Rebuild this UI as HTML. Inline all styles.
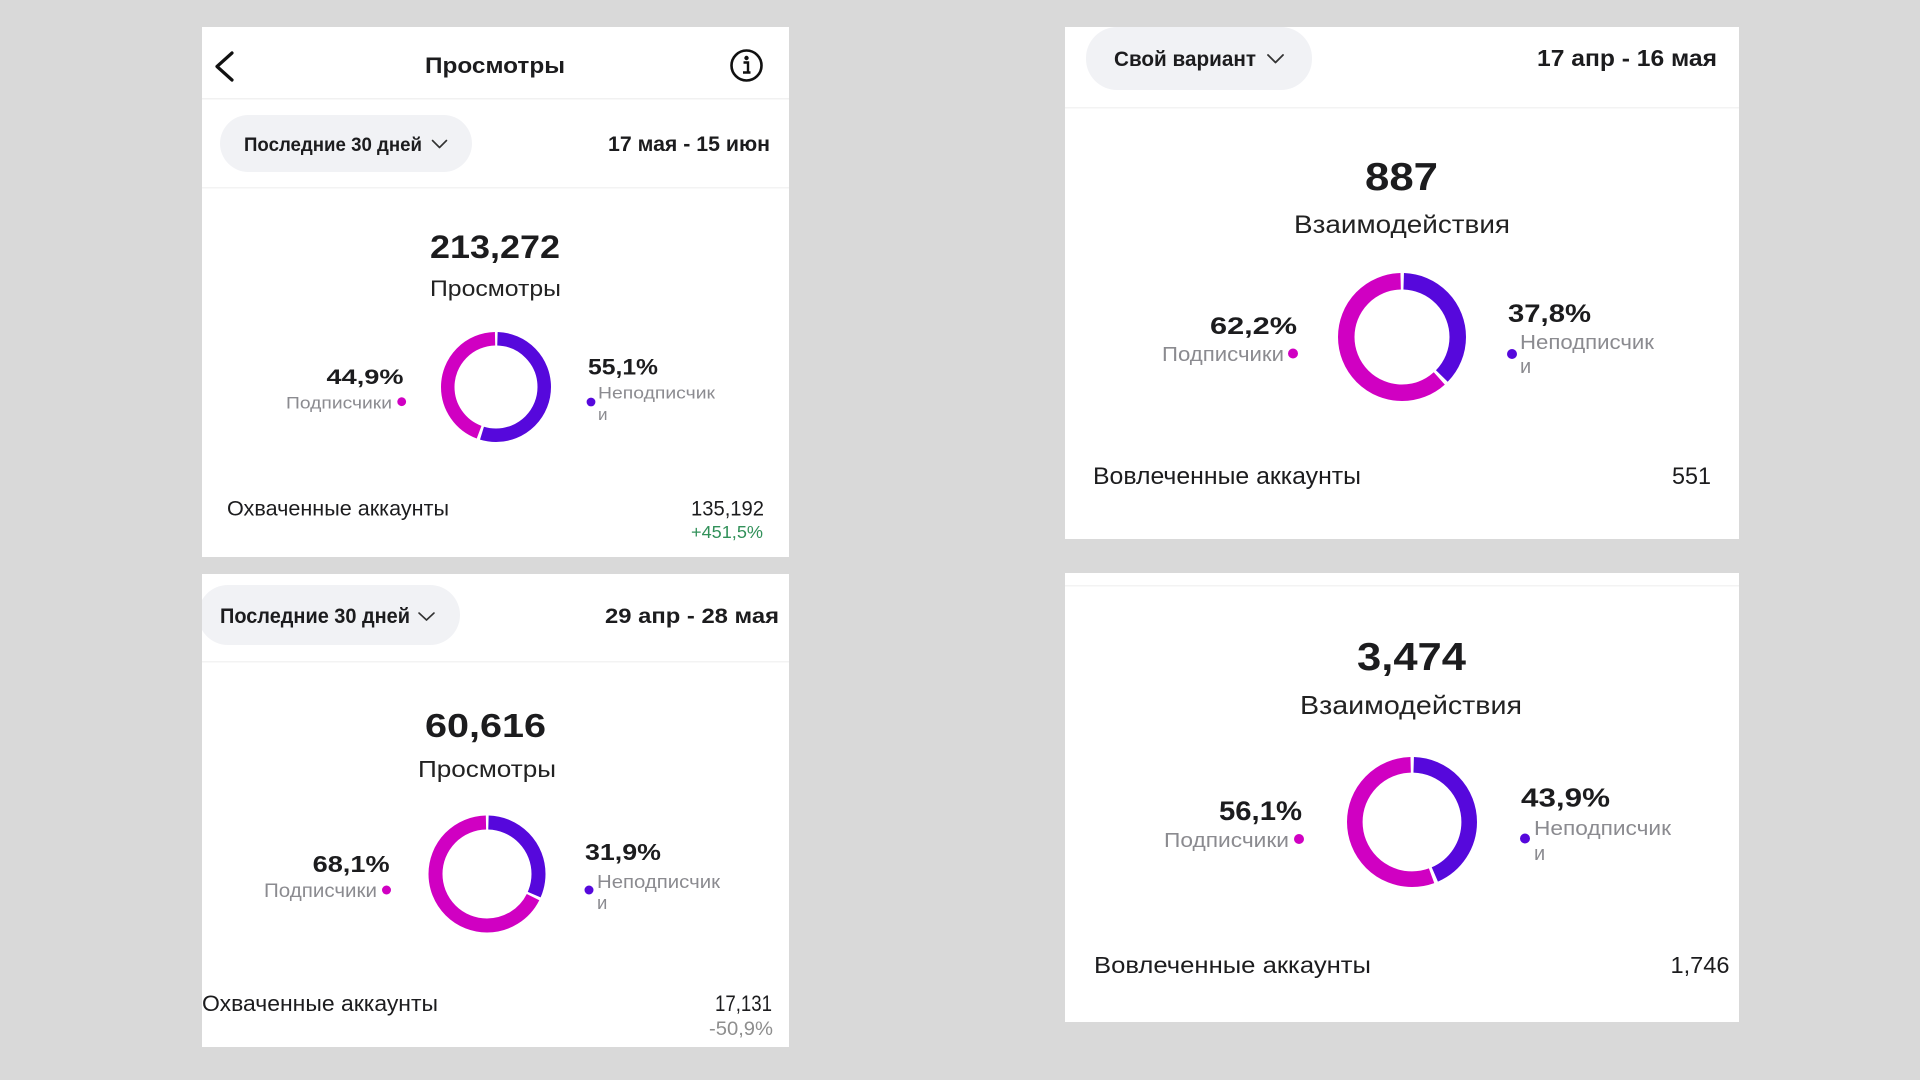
<!DOCTYPE html>
<html><head><meta charset="utf-8"><style>
html,body{margin:0;padding:0;background:#d9d9d9;width:1920px;height:1080px;overflow:hidden}
svg{display:block}
text{font-family:"Liberation Sans",Arial,sans-serif}
.b{font-weight:bold}
.d{fill:#1c1c1e}
.g{fill:#8b8b90}
</style></head><body>
<svg width="1920" height="1080" viewBox="0 0 1920 1080" xmlns="http://www.w3.org/2000/svg">
<rect width="1920" height="1080" fill="#d9d9d9"/>
<defs>
<clipPath id="c2"><rect x="202" y="574" width="587" height="473"/></clipPath>
<clipPath id="c3"><rect x="1065" y="27" width="674" height="512"/></clipPath>
</defs>

<!-- ============ PANEL 1 ============ -->
<rect x="202" y="27" width="587" height="530" fill="#fff"/>
<polyline points="232,53 217,66.5 232,80" fill="none" stroke="#111" stroke-width="3.2" stroke-linecap="round" stroke-linejoin="round"/>
<text x="425" y="73" class="b d" font-size="22" textLength="140" lengthAdjust="spacingAndGlyphs">Просмотры</text>
<circle cx="746.5" cy="65.5" r="15" fill="none" stroke="#111" stroke-width="2.6"/>
<circle cx="746.5" cy="58" r="2.2" fill="#111"/>
<path d="M743.5 62.5 H748 V72.5 M743 72.5 H750.5" fill="none" stroke="#111" stroke-width="2.4"/>
<rect x="202" y="98" width="587" height="1.5" fill="#f1f1f1"/>
<rect x="220" y="115" width="252" height="57" rx="28.5" fill="#f1f2f5"/>
<text x="244" y="151" class="b d" font-size="19.5" textLength="178" lengthAdjust="spacingAndGlyphs">Последние 30 дней</text>
<polyline points="432.5,140.5 439.5,147.5 446.5,140.5" fill="none" stroke="#333" stroke-width="1.6" stroke-linecap="round" stroke-linejoin="round"/>
<text x="608" y="151" class="b d" font-size="21" textLength="162" lengthAdjust="spacingAndGlyphs">17 мая - 15 июн</text>
<rect x="202" y="187" width="587" height="1.5" fill="#f3f3f3"/>
<text x="430" y="258" class="b d" font-size="32.5" textLength="130" lengthAdjust="spacingAndGlyphs">213,272</text>
<text x="430" y="296" fill="#222" font-size="22.5" textLength="131" lengthAdjust="spacingAndGlyphs">Просмотры</text>
<g transform="rotate(-90 496 387)">
<circle cx="496" cy="387" r="48.25" fill="none" stroke="#5608dc" stroke-width="13.5" stroke-dasharray="164.1 400" stroke-dashoffset="-1.5"/>
<circle cx="496" cy="387" r="48.25" fill="none" stroke="#d000c2" stroke-width="13.5" stroke-dasharray="133.1 400" stroke-dashoffset="-168.6"/>
</g>
<text x="326.5" y="384" class="b d" font-size="21.5" textLength="77" lengthAdjust="spacingAndGlyphs">44,9%</text>
<text x="286" y="408.3" class="g" font-size="16.5" textLength="106" lengthAdjust="spacingAndGlyphs">Подписчики</text>
<circle cx="401.7" cy="401.7" r="4.4" fill="#d000c2"/>
<text x="588" y="374.5" class="b d" font-size="22" textLength="70" lengthAdjust="spacingAndGlyphs">55,1%</text>
<circle cx="591" cy="402" r="4.4" fill="#5608dc"/>
<text x="598" y="398.5" class="g" font-size="17" textLength="117" lengthAdjust="spacingAndGlyphs">Неподписчик</text>
<text x="598" y="420" class="g" font-size="17">и</text>
<text x="227" y="515.5" class="d" font-size="21" textLength="222" lengthAdjust="spacingAndGlyphs">Охваченные аккаунты</text>
<text x="691" y="515.5" class="d" font-size="21" textLength="73" lengthAdjust="spacingAndGlyphs">135,192</text>
<text x="691" y="538" fill="#32915a" font-size="17.5" textLength="72" lengthAdjust="spacingAndGlyphs">+451,5%</text>

<!-- ============ PANEL 2 ============ -->
<rect x="202" y="574" width="587" height="473" fill="#fff"/>
<g clip-path="url(#c2)">
<rect x="198" y="585" width="262" height="60" rx="30" fill="#f1f2f5"/>
</g>
<text x="220" y="623" class="b d" font-size="21" textLength="190" lengthAdjust="spacingAndGlyphs">Последние 30 дней</text>
<polyline points="419,613 426.5,620 434,613" fill="none" stroke="#333" stroke-width="1.6" stroke-linecap="round" stroke-linejoin="round"/>
<text x="605" y="623" class="b d" font-size="21" textLength="174" lengthAdjust="spacingAndGlyphs">29 апр - 28 мая</text>
<rect x="202" y="661" width="587" height="1.5" fill="#f3f3f3"/>
<text x="425" y="737" class="b d" font-size="33" textLength="121" lengthAdjust="spacingAndGlyphs">60,616</text>
<text x="418" y="777" fill="#222" font-size="23" textLength="138" lengthAdjust="spacingAndGlyphs">Просмотры</text>
<g transform="rotate(-90 487 874)">
<circle cx="487" cy="874" r="51.5" fill="none" stroke="#5608dc" stroke-width="14" stroke-dasharray="100.5 400" stroke-dashoffset="-1.5"/>
<circle cx="487" cy="874" r="51.5" fill="none" stroke="#d000c2" stroke-width="14" stroke-dasharray="217.4 400" stroke-dashoffset="-104.7"/>
</g>
<text x="312.6" y="872" class="b d" font-size="23" textLength="77" lengthAdjust="spacingAndGlyphs">68,1%</text>
<text x="264" y="897" class="g" font-size="19" textLength="113" lengthAdjust="spacingAndGlyphs">Подписчики</text>
<circle cx="386.5" cy="890" r="4.5" fill="#d000c2"/>
<text x="585" y="860" class="b d" font-size="23" textLength="76" lengthAdjust="spacingAndGlyphs">31,9%</text>
<circle cx="589" cy="890" r="4.5" fill="#5608dc"/>
<text x="597" y="888" class="g" font-size="18.5" textLength="123" lengthAdjust="spacingAndGlyphs">Неподписчик</text>
<text x="597" y="909" class="g" font-size="18.5">и</text>
<text x="202" y="1011" class="d" font-size="22" textLength="236" lengthAdjust="spacingAndGlyphs">Охваченные аккаунты</text>
<text x="715" y="1011" class="d" font-size="22" textLength="57" lengthAdjust="spacingAndGlyphs">17,131</text>
<text x="709" y="1035" fill="#8e8e8e" font-size="19" textLength="64" lengthAdjust="spacingAndGlyphs">-50,9%</text>

<!-- ============ PANEL 3 ============ -->
<rect x="1065" y="27" width="674" height="512" fill="#fff"/>
<g clip-path="url(#c3)">
<rect x="1086" y="27" width="226" height="63" rx="31" fill="#f1f2f5"/>
</g>
<text x="1114" y="66" class="b d" font-size="21" textLength="142" lengthAdjust="spacingAndGlyphs">Свой вариант</text>
<polyline points="1268,55 1275.5,62.5 1283,55" fill="none" stroke="#333" stroke-width="1.8" stroke-linecap="round" stroke-linejoin="round"/>
<text x="1537" y="66" class="b d" font-size="23" textLength="180" lengthAdjust="spacingAndGlyphs">17 апр - 16 мая</text>
<rect x="1065" y="107" width="674" height="1.5" fill="#f3f3f3"/>
<text x="1365" y="190" class="b d" font-size="39" textLength="73" lengthAdjust="spacingAndGlyphs">887</text>
<text x="1294" y="233" fill="#222" font-size="25" textLength="216" lengthAdjust="spacingAndGlyphs">Взаимодействия</text>
<g transform="rotate(-90 1402 337)">
<circle cx="1402" cy="337" r="55.75" fill="none" stroke="#5608dc" stroke-width="16.5" stroke-dasharray="128.9 400" stroke-dashoffset="-1.75"/>
<circle cx="1402" cy="337" r="55.75" fill="none" stroke="#d000c2" stroke-width="16.5" stroke-dasharray="214.4 400" stroke-dashoffset="-134.15"/>
</g>
<text x="1210" y="334" class="b d" font-size="24.5" textLength="87" lengthAdjust="spacingAndGlyphs">62,2%</text>
<text x="1162" y="361" class="g" font-size="20.5" textLength="122" lengthAdjust="spacingAndGlyphs">Подписчики</text>
<circle cx="1293" cy="353.5" r="5" fill="#d000c2"/>
<text x="1508" y="322" class="b d" font-size="25" textLength="83" lengthAdjust="spacingAndGlyphs">37,8%</text>
<circle cx="1512" cy="354" r="5" fill="#5608dc"/>
<text x="1520" y="349" class="g" font-size="20" textLength="134" lengthAdjust="spacingAndGlyphs">Неподписчик</text>
<text x="1520" y="373" class="g" font-size="20">и</text>
<text x="1093" y="484" class="d" font-size="24" textLength="268" lengthAdjust="spacingAndGlyphs">Вовлеченные аккаунты</text>
<text x="1672" y="484" class="d" font-size="24" textLength="39" lengthAdjust="spacingAndGlyphs">551</text>

<!-- ============ PANEL 4 ============ -->
<rect x="1065" y="573" width="674" height="449" fill="#fff"/>
<rect x="1065" y="585" width="674" height="1.5" fill="#f3f3f3"/>
<text x="1357" y="670" class="b d" font-size="39" textLength="109" lengthAdjust="spacingAndGlyphs">3,474</text>
<text x="1300" y="714" fill="#222" font-size="26" textLength="222" lengthAdjust="spacingAndGlyphs">Взаимодействия</text>
<g transform="rotate(-90 1412 822)">
<circle cx="1412" cy="822" r="57.2" fill="none" stroke="#5608dc" stroke-width="15.6" stroke-dasharray="154.3 400" stroke-dashoffset="-1.75"/>
<circle cx="1412" cy="822" r="57.2" fill="none" stroke="#d000c2" stroke-width="15.6" stroke-dasharray="198.1 400" stroke-dashoffset="-159.55"/>
</g>
<text x="1219" y="820" class="b d" font-size="27" textLength="83" lengthAdjust="spacingAndGlyphs">56,1%</text>
<text x="1164" y="847" class="g" font-size="20.5" textLength="125" lengthAdjust="spacingAndGlyphs">Подписчики</text>
<circle cx="1299" cy="839" r="5" fill="#d000c2"/>
<text x="1521" y="806.5" class="b d" font-size="26" textLength="89" lengthAdjust="spacingAndGlyphs">43,9%</text>
<circle cx="1525" cy="838.5" r="5" fill="#5608dc"/>
<text x="1534" y="835" class="g" font-size="20" textLength="137" lengthAdjust="spacingAndGlyphs">Неподписчик</text>
<text x="1534" y="860" class="g" font-size="20">и</text>
<text x="1094" y="973" class="d" font-size="23.5" textLength="277" lengthAdjust="spacingAndGlyphs">Вовлеченные аккаунты</text>
<text x="1670.5" y="973" class="d" font-size="23.5" textLength="59" lengthAdjust="spacingAndGlyphs">1,746</text>
</svg>
</body></html>
